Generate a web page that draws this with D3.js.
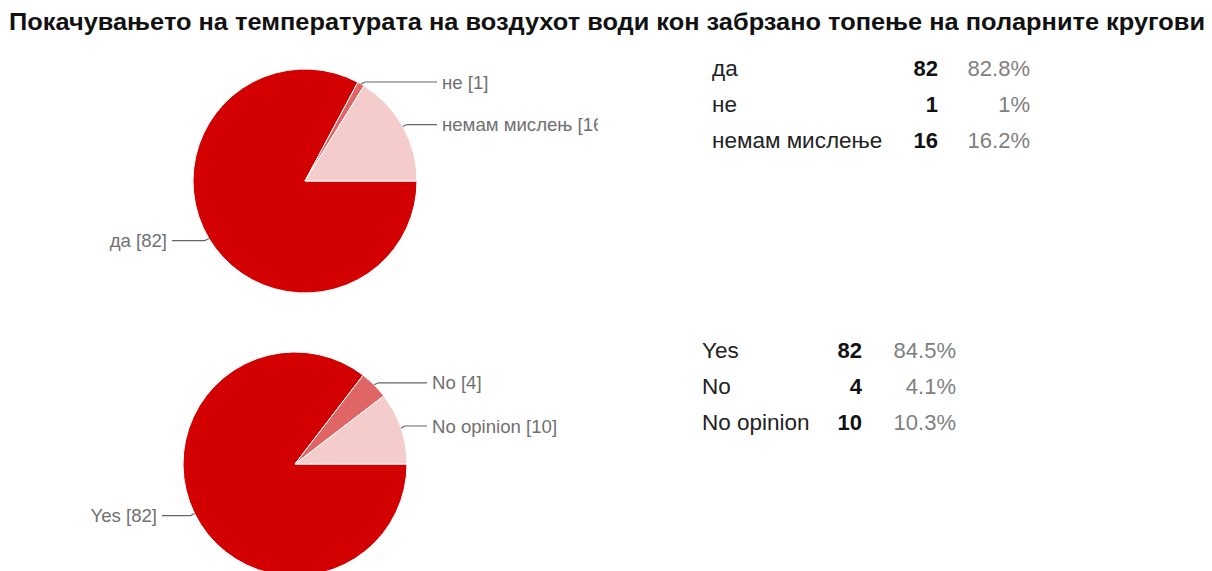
<!DOCTYPE html>
<html>
<head>
<meta charset="utf-8">
<script src="https://cdn.jsdelivr.net/npm/d3@7"></script>
<style>
  html, body { margin: 0; padding: 0; background: #fff; overflow: hidden; }
  svg { display: block; font-family: Arial, "Liberation Sans", sans-serif; }
</style>
</head>
<body>
<script>
// Survey question and answers
const titleText = "Покачувањето на температурата на воздухот води кон забрзано топење на поларните кругови";

// Macedonian responses
const mkCategories = ["да", "не", "немам мислење"];
const mkPieLabels = ["да", "не", "немам мислењ"];
const mkCounts = [82, 1, 16];
const mkPercents = ["82.8%", "1%", "16.2%"];

// English responses
const enCategories = ["Yes", "No", "No opinion"];
const enPieLabels = ["Yes", "No", "No opinion"];
const enCounts = [82, 4, 10];
const enPercents = ["84.5%", "4.1%", "10.3%"];

const sliceColors = ["#d20000", "#e06666", "#f4cccc"];

const W = 1212, H = 571;
const svg = d3.select("body").append("svg").attr("width", W).attr("height", H);

svg.append("text")
  .attr("x", 9).attr("y", 30)
  .attr("textLength", 1196).attr("lengthAdjust", "spacingAndGlyphs")
  .style("font-size", "24px").style("font-weight", "bold").style("fill", "#111")
  .text(titleText);

const charts = [
  { id: "mk", cats: mkCategories, pieLabels: mkPieLabels, counts: mkCounts, pcts: mkPercents,
    cx: 305, cy: 181, r: 112, clipRight: 598,
    tableX: 712, countX: 938, pctX: 1030, rowY0: 68 },
  { id: "en", cats: enCategories, pieLabels: enPieLabels, counts: enCounts, pcts: enPercents,
    cx: 295, cy: 464, r: 112, clipRight: 600,
    tableX: 702, countX: 862, pctX: 956, rowY0: 350 }
];

const pie = d3.pie().sort(null)
  .startAngle(Math.PI / 2).endAngle(Math.PI / 2 + 2 * Math.PI);
const color = d3.scaleOrdinal().range(sliceColors);

charts.forEach(c => {
  color.domain(c.cats);
  const data = c.cats.map((cat, i) => ({ cat, label: c.pieLabels[i], value: c.counts[i] }));
  const arcs = pie.value(d => d.value)(data);
  const arc = d3.arc().innerRadius(0).outerRadius(c.r);

  svg.append("clipPath").attr("id", "clip-" + c.id)
    .append("rect").attr("x", 0).attr("y", c.cy - 150).attr("width", c.clipRight).attr("height", 300);

  const g = svg.append("g").attr("clip-path", `url(#clip-${c.id})`);
  const pg = g.append("g").attr("transform", `translate(${c.cx},${c.cy})`);

  pg.selectAll("path.slice").data(arcs).join("path")
    .attr("class", "slice")
    .attr("d", arc)
    .attr("fill", d => color(d.data.cat))
    .attr("stroke", "#fff").attr("stroke-width", 1);

  // leader lines and slice labels
  arcs.forEach(a => {
    const mid = (a.startAngle + a.endAngle) / 2;
    const ex = Math.sin(mid) * c.r, ey = -Math.cos(mid) * c.r;
    const right = Math.sin(mid) > 0;
    const endX = right ? c.r + 20 : -(c.r + 21);
    const hookX = ex + (right ? 4 : -4);
    const ly = ey + (ey > 0 ? 2 : -2);
    pg.append("path")
      .attr("d", `M${ex},${ey}L${hookX},${ly}L${endX},${ly}`)
      .attr("fill", "none").attr("stroke", "#666").attr("stroke-width", 1.2);
    pg.append("text")
      .attr("x", endX + (right ? 5 : -5)).attr("y", ly)
      .attr("dy", "0.35em")
      .attr("text-anchor", right ? "start" : "end")
      .style("font-size", "18.6px").style("fill", "#707070")
      .text(`${a.data.label} [${a.data.value}]`);
  });

  // summary table
  const rowY = d3.scalePoint().domain(c.cats).range([c.rowY0, c.rowY0 + 72]);
  const tg = svg.append("g");
  c.cats.forEach((cat, i) => {
    const y = rowY(cat);
    tg.append("text").attr("x", c.tableX).attr("y", y).attr("dy", "0.35em")
      .style("font-size", "22.5px").style("fill", "#222").text(cat);
    tg.append("text").attr("x", c.countX).attr("y", y).attr("dy", "0.35em")
      .attr("text-anchor", "end")
      .style("font-size", "22px").style("font-weight", "bold").style("fill", "#111").text(c.counts[i]);
    tg.append("text").attr("x", c.pctX).attr("y", y).attr("dy", "0.35em")
      .attr("text-anchor", "end")
      .style("font-size", "22px").style("fill", "#808080").text(c.pcts[i]);
  });
});
</script>
</body>
</html>
